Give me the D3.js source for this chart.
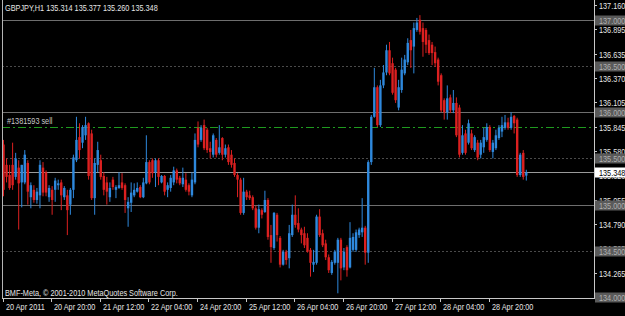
<!DOCTYPE html>
<html>
<head>
<meta charset="utf-8">
<script src="https://cdn.jsdelivr.net/npm/d3@7"></script>
<style>
body { margin: 0; background: #000; }
svg { display: block; }
text { font-family: "Liberation Sans", Arial, sans-serif; font-size: 8.5px; }
</style>
</head>
<body>
<svg id="chart" width="625" height="316"></svg>
<script>
var title = "GBPJPY,H1  135.314 135.377 135.260 135.348";
var copyright = "BMF-Meta, \u00a9 2001-2010 MetaQuotes Software Corp.";

// hourly candles, 20 Apr 2011 -> 29 Apr 2011
var opens = [
  135.65,135.43,135.32,135.43,135.30,135.40,135.24,135.24,135.45,135.08,
  135.16,135.05,135.10,135.40,135.35,135.08,135.16,135.16,135.21,135.24,
  135.08,135.10,135.00,135.16,135.48,135.73,135.67,135.75,135.88,135.77,
  135.07,135.43,135.48,135.31,135.24,135.08,135.27,135.16,135.18,135.24,
  135.21,134.96,135.02,135.10,135.14,135.19,135.08,135.23,135.46,135.48,
  135.35,135.48,135.24,135.31,135.16,135.18,135.24,135.37,135.29,135.22,
  135.27,135.21,135.10,135.24,135.83,135.70,135.86,135.81,135.61,135.54,
  135.70,135.56,135.72,135.54,135.62,135.54,135.45,135.32,135.27,134.91,
  135.14,135.10,135.08,134.96,134.75,134.94,134.92,135.05,134.67,134.53,
  134.89,134.64,134.35,134.49,134.42,134.67,134.89,134.80,134.73,134.69,
  134.64,134.51,134.35,134.37,134.87,134.69,134.58,134.43,134.26,134.37,
  134.37,134.62,134.32,134.54,134.32,134.51,134.51,134.67,134.70,134.75,
  134.48,135.46,135.95,136.27,135.86,136.29,136.43,136.67,136.53,136.46,
  136.05,136.24,136.42,136.54,136.78,136.71,136.89,137.00,136.91,136.89,
  136.78,136.73,136.65,136.57,136.40,136.13,136.00,136.16,136.02,136.10,
  136.05,135.56,135.77,135.67,135.77,135.59,135.67,135.54,135.62,135.70,
  135.84,135.57,135.61,135.72,135.79,135.83,135.89,135.83,135.96,135.92,
  135.32,135.56,135.314
];
var highs = [
  135.70,135.50,135.43,135.67,135.56,135.48,135.43,135.59,135.48,135.24,
  135.21,135.18,135.48,135.46,135.37,135.21,135.20,135.29,135.27,135.27,
  135.20,135.16,135.18,135.54,135.95,135.88,135.86,135.95,135.89,135.81,
  135.50,135.68,135.54,135.35,135.30,135.24,135.30,135.21,135.35,135.34,
  135.23,135.08,135.24,135.23,135.24,135.21,135.29,135.75,135.48,135.50,
  135.50,135.50,135.32,135.32,135.24,135.32,135.41,135.39,135.31,135.40,
  135.34,135.23,135.35,135.77,135.90,135.86,135.92,135.83,135.68,135.77,
  135.72,135.86,135.73,135.65,135.65,135.59,135.50,135.34,135.29,135.29,
  135.16,135.15,135.10,134.99,135.00,134.96,135.15,135.07,134.78,134.92,
  134.91,134.66,134.51,134.51,134.78,135.00,135.10,134.96,134.75,134.76,
  134.69,134.53,134.51,134.89,134.95,134.73,134.62,134.46,134.40,134.51,
  134.64,134.64,134.53,134.56,134.81,134.69,134.73,134.75,135.07,134.77,
  135.48,135.97,136.48,136.29,136.35,136.51,136.73,136.76,136.59,136.48,
  136.35,136.59,136.62,136.80,136.89,136.97,137.02,137.05,136.97,136.91,
  136.84,136.76,136.71,136.59,136.42,136.15,136.29,136.19,136.24,136.16,
  136.08,135.86,135.81,135.92,135.81,135.75,135.70,135.70,135.83,135.88,
  135.86,135.70,135.81,135.86,135.95,135.97,135.94,136.00,135.97,135.94,
  135.56,135.59,135.377
];
var lows = [
  135.09,135.24,135.16,135.16,135.27,134.73,134.97,135.22,135.00,134.96,
  135.02,135.01,134.96,135.09,135.09,135.03,134.89,135.03,135.16,134.94,
  135.05,134.67,134.89,135.07,135.46,135.50,135.61,135.70,135.27,135.05,
  134.89,135.35,135.27,135.10,135.00,135.03,135.16,135.07,135.17,135.16,
  134.91,134.76,134.92,135.08,135.13,135.07,135.07,135.22,135.22,135.29,
  135.19,135.21,135.23,135.10,135.08,135.14,135.21,135.23,135.21,135.19,
  135.14,135.10,135.08,135.22,135.62,135.68,135.59,135.56,135.50,135.51,
  135.51,135.54,135.48,135.51,135.43,135.40,135.30,135.08,134.89,134.89,
  135.05,135.05,134.94,134.73,134.69,134.85,134.91,134.62,134.37,134.51,
  134.60,134.32,134.34,134.35,134.31,134.65,134.75,134.70,134.58,134.53,
  134.48,134.22,134.27,134.35,134.65,134.54,134.40,134.26,134.24,134.35,
  134.04,134.18,134.29,134.22,134.31,134.49,134.49,134.64,134.65,134.35,
  134.37,135.43,135.94,135.84,135.84,136.26,136.40,136.40,136.19,136.10,
  136.02,136.21,136.40,136.51,136.48,136.42,136.87,136.84,136.60,136.64,
  136.62,136.51,136.49,136.29,136.00,135.92,135.92,135.99,135.99,135.73,
  135.51,135.54,135.54,135.65,135.59,135.57,135.48,135.50,135.56,135.68,
  135.57,135.50,135.59,135.70,135.73,135.81,135.81,135.81,135.77,135.30,
  135.30,135.27,135.260
];
var closes = [
  135.16,135.30,135.18,135.21,135.50,135.23,135.43,135.54,135.14,135.21,
  135.05,135.14,135.43,135.13,135.13,135.18,135.05,135.26,135.23,135.10,
  135.18,134.94,135.16,135.51,135.70,135.59,135.84,135.86,135.31,135.07,
  135.45,135.59,135.30,135.16,135.14,135.18,135.19,135.19,135.21,135.18,
  135.05,135.03,135.13,135.16,135.18,135.08,135.24,135.46,135.24,135.34,
  135.48,135.30,135.31,135.14,135.21,135.29,135.37,135.27,135.23,135.29,
  135.16,135.14,135.27,135.70,135.65,135.83,135.61,135.59,135.57,135.75,
  135.54,135.62,135.54,135.61,135.46,135.43,135.32,135.27,134.91,135.14,
  135.08,135.07,134.96,134.75,134.95,134.89,135.05,134.65,134.54,134.91,
  134.67,134.35,134.49,134.40,134.69,134.89,134.78,134.73,134.67,134.56,
  134.49,134.37,134.38,134.87,134.67,134.56,134.43,134.29,134.38,134.49,
  134.62,134.31,134.49,134.29,134.64,134.65,134.70,134.73,134.75,134.48,
  135.46,135.95,136.27,135.86,136.29,136.43,136.67,136.42,136.21,136.13,
  136.27,136.46,136.57,136.75,136.67,136.91,136.97,136.87,136.76,136.73,
  136.64,136.64,136.53,136.33,136.02,136.00,136.15,136.02,136.10,135.75,
  135.54,135.75,135.56,135.88,135.61,135.73,135.51,135.67,135.73,135.84,
  135.59,135.67,135.75,135.83,135.86,135.89,135.83,135.95,135.88,135.32,
  135.54,135.30,135.348
];

var priceTicks = [137.160,136.895,136.635,136.370,136.105,135.845,135.580,135.320,135.055,134.790,134.525,134.265];
var levels = [137.0,136.5,136.0,135.5,135.0,134.5,134.0];
var timeLabels = ["20 Apr 2011","20 Apr 20:00","21 Apr 12:00","22 Apr 04:00","24 Apr 20:00","25 Apr 12:00",
  "26 Apr 04:00","26 Apr 20:00","27 Apr 12:00","28 Apr 04:00","28 Apr 20:00"];
var timeBars = [0,16,32,48,64,80,96,112,128,144,160];
var orderPrice = 135.845;
var orderLabel = "#1381593 sell";
var bid = 135.348;

var upColor = "#2e88dc", downColor = "#dc2020";
var axisX = 594, bottomY = 298, leftX = 2;
var squeeze = 0.86; // the terminal font is narrower than Arial

var svg = d3.select("#chart");
svg.append("rect").attr("width", 625).attr("height", 316).attr("fill", "#000");

function label(parent, tx, ty, str, color){
  return parent.append("text")
    .attr("transform", "translate(" + tx + "," + ty + ") scale(" + squeeze + ",1)")
    .attr("fill", color)
    .text(str);
}

var y = d3.scaleLinear().domain([134, 137.16]).range([297, 5]);
var x = d3.scaleLinear().domain([0, 172]).range([3.5, 526.3]);

// level lines (whole numbers solid, halves dotted)
svg.selectAll("line.level")
  .data(levels.filter(function(d){ return d > 134; }))
  .enter().append("line")
  .attr("class", "level")
  .attr("x1", leftX).attr("x2", axisX)
  .attr("y1", function(d){ return Math.round(y(d)) + 0.5; })
  .attr("y2", function(d){ return Math.round(y(d)) + 0.5; })
  .attr("stroke", function(d){ return d % 1 === 0 ? "#6e6e6e" : "#4a4a4a"; })
  .attr("stroke-dasharray", function(d){ return d % 1 === 0 ? null : "2,2"; });

// bid line
svg.append("line")
  .attr("x1", leftX).attr("x2", axisX)
  .attr("y1", Math.round(y(bid)) + 0.5).attr("y2", Math.round(y(bid)) + 0.5)
  .attr("stroke", "#9a9a9a");

// order line
svg.append("line")
  .attr("x1", leftX).attr("x2", axisX)
  .attr("y1", Math.round(y(orderPrice)) + 0.5).attr("y2", Math.round(y(orderPrice)) + 0.5)
  .attr("stroke", "#1f9a1f")
  .attr("stroke-dasharray", "8,3,2,3");

label(svg, 7, Math.round(y(orderPrice)) - 3, orderLabel, "#c8c8c8");

// candles
var bars = d3.range(closes.length);
var g = svg.append("g");
g.selectAll("line.wick")
  .data(bars).enter().append("line")
  .attr("class", "wick")
  .attr("x1", function(i){ return x(i); })
  .attr("x2", function(i){ return x(i); })
  .attr("y1", function(i){ return y(highs[i]); })
  .attr("y2", function(i){ return y(lows[i]); })
  .attr("stroke", function(i){ return closes[i] >= opens[i] ? upColor : downColor; })
  .attr("stroke-width", 1);

g.selectAll("rect.body")
  .data(bars).enter().append("rect")
  .attr("class", "body")
  .attr("x", function(i){ return x(i) - 1.2; })
  .attr("width", 2.4)
  .attr("y", function(i){ return y(Math.max(opens[i], closes[i])); })
  .attr("height", function(i){ return Math.max(1, Math.abs(y(opens[i]) - y(closes[i]))); })
  .attr("fill", function(i){ return closes[i] >= opens[i] ? upColor : downColor; });

// frame
svg.append("line").attr("x1", leftX + 0.5).attr("x2", leftX + 0.5).attr("y1", 0).attr("y2", bottomY + 0.5).attr("stroke", "#b4b4b4");
svg.append("line").attr("x1", axisX + 0.5).attr("x2", axisX + 0.5).attr("y1", 0).attr("y2", bottomY + 0.5).attr("stroke", "#c8c8c8");
svg.append("line").attr("x1", leftX).attr("x2", axisX + 1).attr("y1", bottomY + 0.5).attr("y2", bottomY + 0.5).attr("stroke", "#c8c8c8");

// price axis
priceTicks.forEach(function(d){
  var py = Math.round(y(d));
  svg.append("line").attr("x1", axisX).attr("x2", axisX + 3).attr("y1", py + 0.5).attr("y2", py + 0.5).attr("stroke", "#c8c8c8");
  label(svg, axisX + 5, py + 3.5, d3.format(".3f")(d), "#e6e6e6");
});

levels.forEach(function(d){
  var py = Math.round(y(d));
  svg.append("rect").attr("x", axisX + 1).attr("y", py - 4.5).attr("width", 30).attr("height", 10).attr("fill", "#5a5a5a");
  label(svg, axisX + 5, py + 3.5, d3.format(".3f")(d), "#b0b0b0");
});

var by = Math.round(y(bid));
svg.append("rect").attr("x", axisX + 1).attr("y", by - 4.5).attr("width", 30).attr("height", 10).attr("fill", "#fff");
label(svg, axisX + 5, by + 3.5, d3.format(".3f")(bid), "#000");

// time axis
timeBars.forEach(function(d, k){
  var tx = Math.round(x(d) - 1);
  svg.append("line").attr("x1", tx + 0.5).attr("x2", tx + 0.5).attr("y1", bottomY).attr("y2", bottomY + 4).attr("stroke", "#c8c8c8");
  label(svg, tx + 3, bottomY + 12, timeLabels[k], "#e6e6e6");
});

// texts
label(svg, 5, 11, title, "#e6e6e6");
label(svg, 5, 296, copyright, "#e6e6e6");
</script>
</body>
</html>
